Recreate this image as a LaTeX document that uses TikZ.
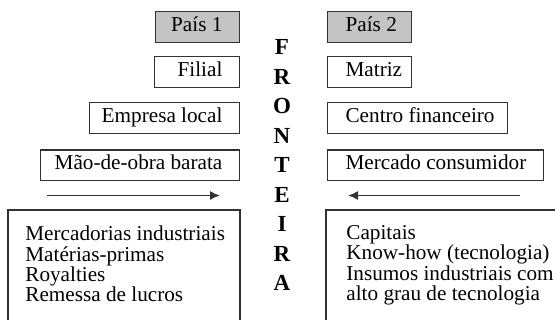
\documentclass[tikz,border=0pt]{standalone}
\usepackage{fontspec}
\setmainfont{Liberation Serif}
\usetikzlibrary{arrows.meta}
\definecolor{linegray}{HTML}{333333}
\definecolor{boxgray}{HTML}{C4C4C4}
\newcommand{\ltxt}[2]{\makebox[#1][r]{#2}}
\newcommand{\rtxt}[2]{\makebox[#1][l]{#2}}
\begin{document}
\begin{tikzpicture}[x=0.5pt,y=-0.5pt,
	box/.style={draw=linegray,line width=0.6pt,minimum height=15.3pt,inner ysep=0pt,
		text height=0.7em,text depth=0.25em,font=\fontsize{10.6}{12}\selectfont},
	leftbox/.style={box,anchor=east,inner xsep=8.5pt},
	rightbox/.style={box,anchor=west,inner xsep=9pt},
	country/.style={fill=boxgray},
	listtext/.style={anchor=north west,align=left,inner sep=0pt,font=\fontsize{10.6}{10.15}\selectfont},
	flow/.style={draw=linegray,line width=0.7pt,-{Latex[length=5pt,width=4.5pt]}}]
	\useasboundingbox (0,0) rectangle (555,320);
		% pais 1
		\node[leftbox,country] (pais1) at (240,27) {\ltxt{25pt}{País 1}};
		\node[leftbox] (filial) at (240,72) {\ltxt{25.5pt}{Filial}};
		\node[leftbox] (empresa) at (240,118) {\ltxt{58pt}{Empresa local}};
		\node[leftbox] (maodeobra) at (240,165.3) {\ltxt{82.5pt}{Mão-de-obra barata}};
		% pais 2
		\node[rightbox,country] (pais2) at (327,27) {\rtxt{24pt}{País 2}};
		\node[rightbox] (matriz) at (327,72) {\rtxt{24pt}{Matriz}};
		\node[rightbox] (centro) at (327,118) {\rtxt{72pt}{Centro financeiro}};
		\node[rightbox] (mercado) at (327,165.3) {\rtxt{90pt}{Mercado consumidor}};
		% fronteira
		\foreach \l [count=\i from 0] in {F,R,O,N,T,E,I,R,A}
			\node[font=\fontsize{11.5}{12}\bfseries\selectfont,inner sep=0pt] (f\i) at (282,47+29.5*\i) {\l};
		% fluxos
		\coordinate (l1) at (47,195.5);
		\coordinate (l2) at (220,195.5);
		\coordinate (r1) at (520,195.5);
		\coordinate (r2) at (348,195.5);
		\draw[flow] (l1) -- (l2);
		\draw[flow] (r1) -- (r2);
		% listas
		\draw[linegray,line width=0.6pt] (8,210) rectangle (240,340);
		\draw[linegray,line width=0.6pt] (326,210) rectangle (575,340);
		\node[listtext] (lista1) at (25,224.5) {\rule{0pt}{8pt}Mercadorias industriais\\Matérias-primas\\Royalties\\Remessa de lucros};
		\node[listtext] (lista2) at (346,223) {\rule{0pt}{8pt}Capitais\\Know-how (tecnologia)\\Insumos industriais com\\alto grau de tecnologia};
\end{tikzpicture}
\end{document}
